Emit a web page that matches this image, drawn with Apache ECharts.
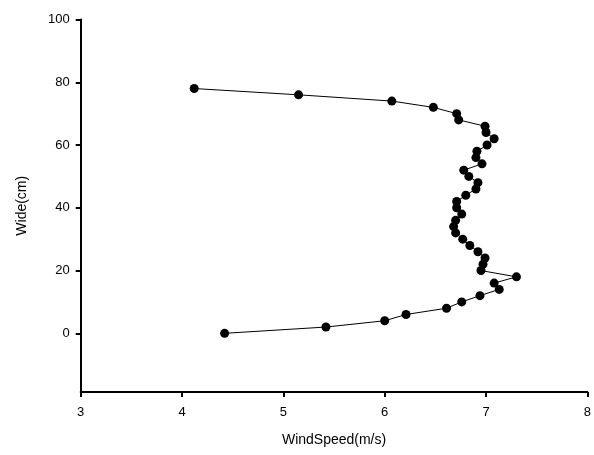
<!DOCTYPE html>
<html>
<head>
<meta charset="utf-8">
<script src="https://cdn.jsdelivr.net/npm/echarts@6/dist/echarts.min.js"></script>
<style>html,body{margin:0;padding:0;background:#fff}#c{width:594px;height:455px}</style>
</head>
<body>
<div id="c"></div>
<script>
const widths = [0,2,4,6,8,10,12,14,16,18,20,22,24,26,28,30,32,34,36,38,40,42,44,46,48,50,52,54,56,58,60,62,64,66,68,70,72,74,76,78];
const windSpeeds = [4.42,5.42,6.00,6.21,6.61,6.76,6.94,7.13,7.08,7.30,6.95,6.97,6.99,6.92,6.84,6.77,6.70,6.68,6.70,6.76,6.71,6.71,6.80,6.90,6.92,6.83,6.78,6.96,6.90,6.91,7.01,7.08,7.00,6.99,6.73,6.71,6.48,6.07,5.15,4.12];
const xTicks = [3,4,5,6,7,8];
const yTicks = [0,20,40,60,80,100];

const font = 'Liberation Sans, Arial, sans-serif';
const chart = echarts.init(document.getElementById('c'), null, {renderer:'canvas'});
chart.setOption({
  animation:false,
  backgroundColor:'#fff',
  grid:{left:80.7, right:0.5, top:19.5, bottom:63, containLabel:false},
  xAxis:{
    type:'value', min:3, max:8, interval:1,
    name:'WindSpeed(m/s)', nameLocation:'middle', nameGap:41,
    nameTextStyle:{color:'#000', fontSize:14, fontFamily:font},
    axisLine:{show:true, onZero:false, lineStyle:{color:'#000', width:2}},
    axisTick:{show:true, inside:false, length:5, customValues:xTicks, lineStyle:{color:'#000', width:2}},
    axisLabel:{color:'#000', fontSize:13, fontFamily:font, margin:14, customValues:xTicks},
    splitLine:{show:false}
  },
  yAxis:{
    type:'value', min:-18.7, max:100,
    name:'Wide(cm)', nameLocation:'middle', nameGap:52,
    nameTextStyle:{color:'#000', fontSize:14, fontFamily:font},
    axisLine:{show:true, onZero:false, lineStyle:{color:'#000', width:2}},
    axisTick:{show:true, inside:false, length:5, customValues:yTicks, lineStyle:{color:'#000', width:2}},
    axisLabel:{color:'#000', fontSize:13, fontFamily:font, margin:11, customValues:yTicks},
    splitLine:{show:false}
  },
  series:[{
    type:'line',
    data: windSpeeds.map((v,i)=>[v, widths[i]]),
    symbol:'circle', symbolSize:9,
    itemStyle:{color:'#000'},
    lineStyle:{color:'#000', width:1},
    clip:false
  }]
});
</script>
</body>
</html>
